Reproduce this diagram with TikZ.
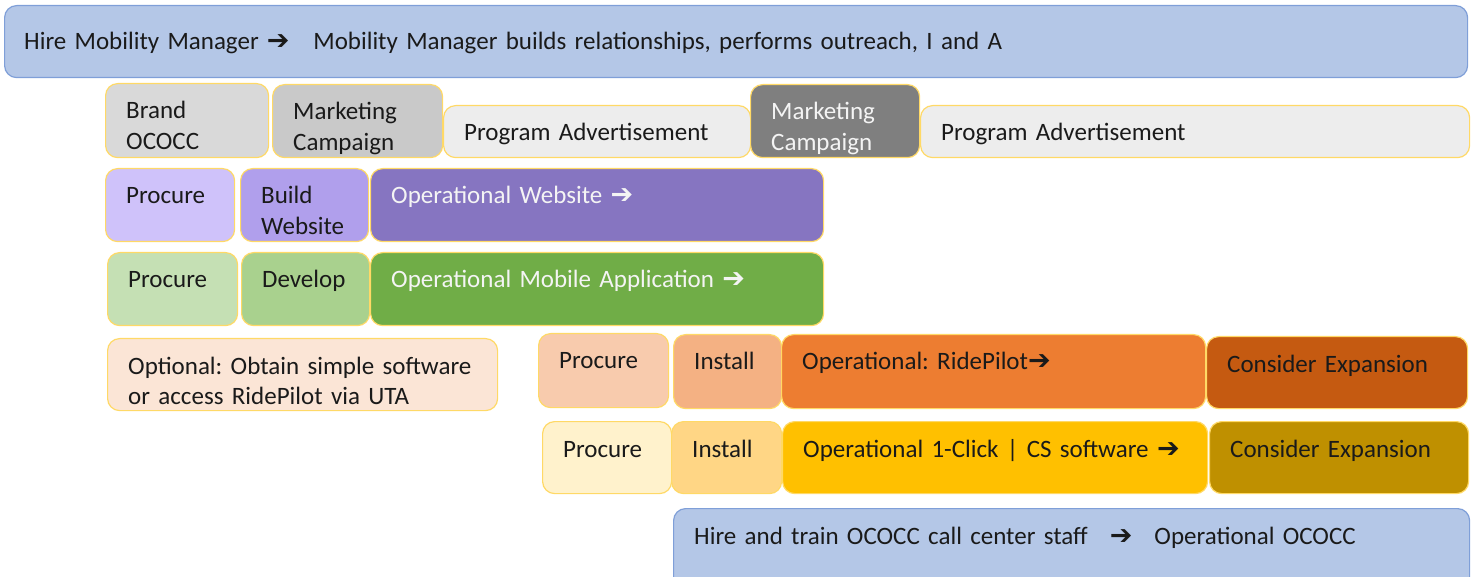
\documentclass[tikz,border=0pt]{standalone}
\usepackage{fontspec}
\setmainfont{Carlito}
\newfontfamily\dejavu{DejaVu Sans}
\newcommand\rarr{{\dejavu\bfseries\fontsize{27}{27}\selectfont ➔}}
\definecolor{bluefill}{HTML}{B4C7E7}
\definecolor{blueline}{HTML}{7F9FD8}
\definecolor{yline}{HTML}{FFD966}
\definecolor{gA}{HTML}{D9D9D9}
\definecolor{gB}{HTML}{C9C9C9}
\definecolor{gC}{HTML}{EDEDED}
\definecolor{gD}{HTML}{7F7F7F}
\definecolor{pA}{HTML}{CFC2FA}
\definecolor{pB}{HTML}{B09FEC}
\definecolor{pC}{HTML}{8675C1}
\definecolor{vA}{HTML}{C5E0B4}
\definecolor{vB}{HTML}{A9D18E}
\definecolor{vC}{HTML}{70AD47}
\definecolor{oO}{HTML}{FBE5D6}
\definecolor{oA}{HTML}{F8CBAD}
\definecolor{oB}{HTML}{F4B183}
\definecolor{oC}{HTML}{ED7D31}
\definecolor{oD}{HTML}{C55A11}
\definecolor{yA}{HTML}{FFF2CC}
\definecolor{yB}{HTML}{FFD685}
\definecolor{yC}{HTML}{FFC000}
\definecolor{yD}{HTML}{BF9000}
\definecolor{wtxt}{HTML}{F4F4F4}
\definecolor{btxt}{HTML}{1A1A1A}
\newcommand\mybox[8]{%
  \node[bx,#6,anchor=north west,minimum width={#4-#2},minimum height={#5-#3}] (#1) at (#2,#3) {};
  \node[txt,text=#7] (#1t) at ([xshift=21pt,yshift=-36pt]#1.north west) {#8};}
\begin{document}
\begin{tikzpicture}[x=1pt,y=-1pt,
  bx/.style={draw=yline,line width=1.2pt,rounded corners=12pt,inner sep=0pt},
  bluebox/.style={fill=bluefill,draw=blueline},
  txt/.style={anchor=base west,inner sep=0pt,align=left,text width=900pt,
    font=\fontsize{25}{30.5}\selectfont\frenchspacing}]
\useasboundingbox (0,0) rectangle (1473,577);
\clip (0,0) rectangle (1473,577);
% top
\node[bx,bluebox,anchor=north west,minimum width=1463,minimum height=72] (top) at (4,5) {};
\node[txt,text=btxt,text width=1400pt] (topt) at ([xshift=20pt,yshift=-45pt]top.north west)
  {Hire Mobility Manager\hspace{8pt}\rarr\hspace{24pt}Mobility Manager builds relationships, performs outreach, I and A};
% row 1
\mybox{brand}{105}{83}{268}{157}{fill=gA}{btxt}{Brand\\OCOCC}
\mybox{mc1}{272}{84}{442}{157}{fill=gB}{btxt}{Marketing\\Campaign}
\mybox{pa1}{443}{105}{750}{157}{fill=gC}{btxt}{Program Advertisement}
\mybox{mc2}{750}{84}{919}{157}{fill=gD}{wtxt}{Marketing\\Campaign}
\mybox{pa2}{920}{105}{1469}{157}{fill=gC}{btxt}{Program Advertisement}
% row 2
\mybox{wp}{105}{168}{234}{241}{fill=pA}{btxt}{Procure}
\mybox{wb}{240}{168}{368}{241}{fill=pB}{btxt}{Build\\Website}
\mybox{wo}{370}{168}{823}{241}{fill=pC}{wtxt}{Operational Website \rarr}
% row 3
\mybox{mp}{107}{252}{237}{325}{fill=vA}{btxt}{Procure}
\mybox{md}{241}{252}{369}{325}{fill=vB}{btxt}{Develop}
\mybox{mo}{370}{252}{823}{325}{fill=vC}{wtxt}{Operational Mobile Application \rarr}
% row 4
\mybox{opt}{107}{338}{497}{410}{fill=oO}{btxt}{Optional: Obtain simple software\\or access RidePilot via UTA}
\mybox{rp}{538}{333}{668}{407}{fill=oA}{btxt}{Procure}
\mybox{ri}{673}{334}{781}{408}{fill=oB}{btxt}{Install}
\mybox{ro}{781}{334}{1205}{408}{fill=oC}{btxt}{Operational: RidePilot\rarr}
\mybox{rc}{1206}{336}{1467}{408}{fill=oD}{btxt}{Consider Expansion}
% row 5
\mybox{cp}{542}{421}{671}{493}{fill=yA}{btxt}{Procure}
\mybox{ci}{671}{421}{781}{493}{fill=yB}{btxt}{Install}
\mybox{co}{782}{421}{1207}{493}{fill=yC}{btxt}{Operational 1-Click | CS software \rarr}
\mybox{cc}{1209}{421}{1468}{493}{fill=yD}{btxt}{Consider Expansion}
% row 6
\mybox{hire}{673}{508}{1469}{590}{bluebox}{btxt}{Hire and train OCOCC call center staff\hspace{22pt}\rarr\hspace{22pt}Operational OCOCC}
\end{tikzpicture}
\end{document}
